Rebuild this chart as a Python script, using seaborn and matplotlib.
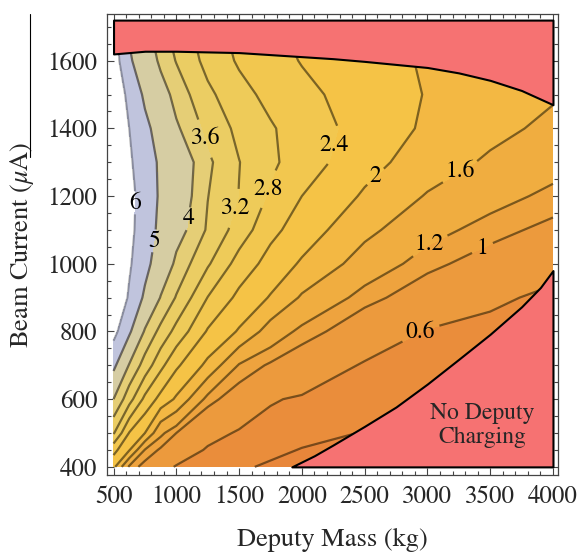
import matplotlib
matplotlib.use("Agg")
import matplotlib.pyplot as plt
from matplotlib.lines import Line2D
from matplotlib.ticker import MultipleLocator
import numpy as np
import seaborn as sns

# grid: deputy mass (kg) along x, beam current (uA) along y
mass = [500, 625, 750, 875, 1000, 1250, 1500, 1750, 2000, 2500, 3000, 3500, 4000]
current = [400, 450, 500, 600, 700, 800, 900, 1000, 1100, 1200, 1300, 1400, 1500, 1600, 1720]

# estimated contour value at each grid point, one list per beam current row
time_400 = [2.10, 1.14, 0.90, 0.70, 0.58, 0.50, 0.43, 0.37, 0.34, 0.30, 0.28, 0.26, 0.25]
time_450 = [2.53, 2.03, 1.18, 0.96, 0.78, 0.57, 0.51, 0.45, 0.39, 0.33, 0.30, 0.28, 0.26]
time_500 = [3.24, 2.38, 2.00, 1.27, 1.00, 0.70, 0.57, 0.52, 0.47, 0.39, 0.34, 0.30, 0.27]
time_600 = [4.00, 3.36, 2.70, 2.27, 1.94, 1.09, 0.84, 0.62, 0.57, 0.50, 0.42, 0.36, 0.30]
time_700 = [5.20, 3.95, 3.44, 2.91, 2.47, 1.90, 1.17, 0.96, 0.81, 0.57, 0.50, 0.42, 0.36]
time_800 = [6.30, 5.14, 3.92, 3.49, 3.07, 2.36, 1.96, 1.41, 1.12, 0.81, 0.58, 0.50, 0.42]
time_900 = [6.90, 5.88, 4.83, 3.97, 3.57, 2.79, 2.30, 1.97, 1.55, 1.08, 0.85, 0.67, 0.52]
time_1000 = [6.95, 6.12, 5.29, 4.49, 3.88, 3.25, 2.64, 2.25, 1.95, 1.42, 1.06, 0.89, 0.74]
time_1100 = [7.05, 6.26, 5.48, 4.78, 4.22, 3.55, 3.02, 2.51, 2.21, 1.70, 1.32, 1.08, 0.93]
time_1200 = [7.05, 6.30, 5.55, 4.87, 4.38, 3.61, 3.19, 2.74, 2.40, 1.95, 1.57, 1.33, 1.12]
time_1300 = [6.83, 6.14, 5.46, 4.85, 4.40, 3.68, 3.21, 2.88, 2.60, 2.14, 1.80, 1.54, 1.34]
time_1400 = [6.80, 6.00, 5.23, 4.61, 4.07, 3.48, 3.10, 2.84, 2.62, 2.24, 1.94, 1.71, 1.51]
time_1500 = [6.70, 5.75, 4.83, 4.25, 3.83, 3.29, 2.93, 2.69, 2.50, 2.22, 1.98, 1.81, 1.64]
time_1600 = [6.50, 5.14, 4.42, 3.89, 3.58, 3.07, 2.75, 2.55, 2.38, 2.15, 1.96, 1.81, 1.66]
time_1720 = [6.30, 4.80, 4.10, 3.70, 3.40, 2.95, 2.65, 2.45, 2.30, 2.10, 1.93, 1.80, 1.68]

levels = [0.4, 0.6, 1.0, 1.2, 1.6, 2.0, 2.4, 2.8, 3.2, 3.6, 4.0, 5.0, 6.0]
level_text = ["0.4", "0.6", "1", "1.2", "1.6", "2", "2.4", "2.8", "3.2", "3.6", "4", "5", "6"]
band_colors = ["#E8863A", "#EA8D3B", "#EC9A3D", "#EEA33E", "#F0AD40", "#F3B843",
               "#F5C346", "#F2C74F", "#EECB59", "#EBCD63", "#E5CE76", "#D6CDA3", "#C0C4DD"]

# where the labels sit (0.4 has none)
label_spots = [(2938, 802), (3430, 1053), (3001, 1068), (3255, 1275), (2580, 1260), (2223, 1354),
               (1731, 1221), (1469, 1163), (1254, 1373), (1095, 1133), (818, 1068), (675, 1180)]

# region limits (red areas)
upper_mass = [500, 750, 1000, 1500, 2000, 2250, 2500, 2750, 3000, 3250, 3500, 3750, 4000]
upper_current = [1620, 1628, 1628, 1624, 1612, 1606, 1598, 1589, 1580, 1564, 1542, 1512, 1470]
lower_mass = [1920, 2100, 2250, 2500, 2750, 3000, 3250, 3500, 3750, 3900, 4000]
lower_current = [400, 433, 465, 520, 577, 645, 718, 792, 873, 930, 980]

red = "#F67272"

sns.set_theme(style="ticks")
plt.rcParams["font.family"] = ["STIXGeneral", "DejaVu Serif"]
plt.rcParams["mathtext.fontset"] = "stix"

fig = plt.figure(figsize=(5.79, 5.57), dpi=100)
ax = fig.add_axes([107 / 579, 1 - 475 / 557, (558 - 107) / 579, (475 - 14) / 557])

Z = np.array([time_400, time_450, time_500, time_600, time_700, time_800, time_900,
              time_1000, time_1100, time_1200, time_1300, time_1400, time_1500,
              time_1600, time_1720])

ax.contourf(mass, current, Z, levels=[0.0] + levels, colors=band_colors, zorder=1)
line_colors = [(0.1, 0.07, 0.0, 0.55)] * 12 + [(0, 0, 0, 0.28)]
cs = ax.contour(mass, current, Z, levels=levels, colors=line_colors, linewidths=1.6, zorder=2)
labels = ax.clabel(cs, fmt=dict(zip(levels, level_text)), manual=label_spots,
                   inline=True, inline_spacing=6, fontsize=17, colors="black")
for t in labels:
    t.set_rotation(0)

ax.fill_between(upper_mass, upper_current, 1720, facecolor=red, edgecolor="black",
                linewidth=1.5, zorder=3)
ax.fill_between(lower_mass, 400, lower_current, facecolor=red, edgecolor="black",
                linewidth=1.5, zorder=3)
ax.text(3440, 522, "No Deputy\nCharging", ha="center", va="center", fontsize=17,
        linespacing=1.15, zorder=4)

ax.set_xlim(448, 4040)
ax.set_ylim(376, 1738)
ax.set_xticks(range(500, 4001, 500))
ax.set_yticks(range(400, 1601, 200))
ax.xaxis.set_minor_locator(MultipleLocator(100))
ax.yaxis.set_minor_locator(MultipleLocator(50))
ax.tick_params(which="both", direction="in", top=True, right=True, width=0.8,
               color="#444444", labelsize=18, pad=7)
ax.tick_params(which="major", length=5)
ax.tick_params(which="minor", length=2.8)
for spine in ax.spines.values():
    spine.set_color("#444444")
    spine.set_linewidth(0.9)

ax.set_xlabel("Deputy Mass (kg)", fontsize=19, labelpad=14)
ax.set_ylabel(r"Beam Current ($\mu$A)", fontsize=19, labelpad=8)

fig.add_artist(Line2D([30 / 579, 30 / 579], [1 - 14 / 557, 1 - 157 / 557], color="black", lw=0.8))

fig.savefig("out.png", dpi=100)
plt.close(fig)
